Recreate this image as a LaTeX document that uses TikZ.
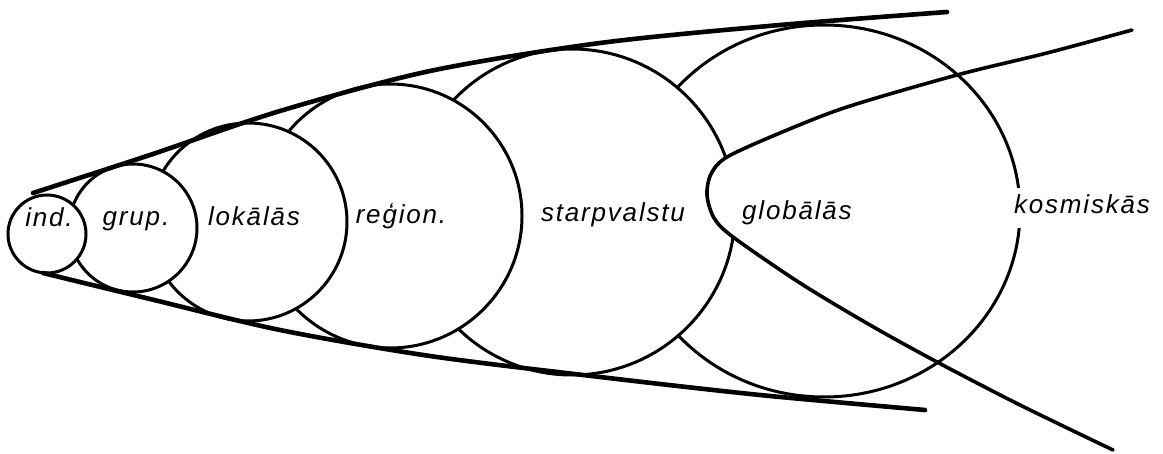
\documentclass[tikz,border=0pt]{standalone}
\usepackage{fontspec}
\usepackage{tikz}
\newfontfamily\lblfont[LetterSpace=7]{Liberation Sans}

\begin{document}
\begin{tikzpicture}[x=1pt,y=-1pt,
  lbl/.style={font=\lblfont\itshape\fontsize{26}{30}\selectfont,anchor=base,inner sep=1pt},
  rim/.style={line width=3pt,fill=white},
  edge/.style={line width=4.6pt,line cap=round,line join=round}]
  \useasboundingbox (0,0) rectangle (1163,454);
  \foreach \cx/\cy/\rx/\ry in {824/211/196/186,572/212/163/163,390/216/132/132,248/222/99/99,133/228/64/64,47/234/39/39}
    \filldraw[rim] (\cx,\cy) ellipse [x radius=\rx,y radius=\ry];
  \begin{scope}
    \clip (572,212) circle [radius=166];
    \fill[white] plot[smooth] coordinates {(1132,30) (1047,53) (957,75) (847,107) (780,133) (727,157) (711,174) (707,195) (714,218) (733,237) (800,283) (870,325) (937,362) (1020,405) (1113,450)} -- (1163,454) -- (1163,0) -- cycle;
  \end{scope}
  \draw[line width=3.6pt,line cap=round] plot[smooth] coordinates {(1132,30) (1047,53) (957,75) (847,107) (780,133) (727,157) (711,174) (707,195) (714,218) (733,237) (800,283) (870,325) (937,362) (1020,405) (1113,450)};
  \draw[edge] plot[smooth] coordinates {(33,193) (150,155) (280,111) (430,71) (600,43) (780,25) (947,12)};
  \draw[edge] plot[smooth] coordinates {(43,273) (150,299) (280,330) (430,356) (600,377) (760,395) (925,410)};
  \node[lbl] (ind) at (49,227) {ind.};
  \node[lbl] (grup) at (136,226) {grup.};
  \node[lbl] (lok) at (254,226) {lokālās};
  \node[lbl] (reg) at (401,224) {reģion.};
  \node[lbl] (starp) at (613,222) {starpvalstu};
  \node[lbl] (glob) at (797,220) {globālās};
  \node[lbl,fill=white,inner ysep=7pt,text depth=7pt] (kosm) at (1082,214) {kosmiskās};
\end{tikzpicture}
\end{document}
